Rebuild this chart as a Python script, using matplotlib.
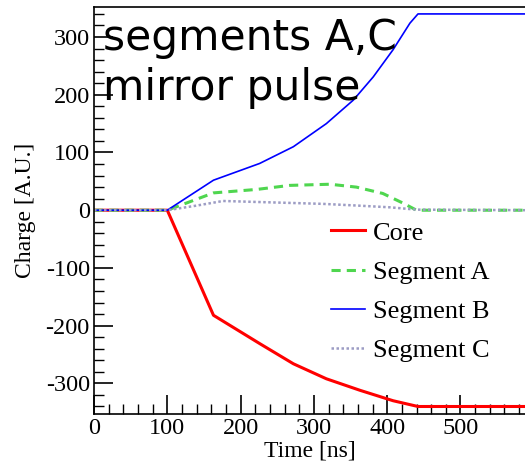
import matplotlib
matplotlib.use("Agg")
import matplotlib.pyplot as plt
from matplotlib.ticker import MultipleLocator

plt.rcParams["axes.unicode_minus"] = False

# Data
core_t = [0, 100, 163, 226, 272, 317, 363, 408, 442, 590]
core_q = [0, 0, -182, -231, -266, -292, -312, -330, -340, -340]

segA_t = [0, 100, 163, 222, 267, 322, 358, 394, 422, 440, 590]
segA_q = [0, 0, 30, 36, 43, 45, 40, 29, 12, 0, 0]

segB_t = [0, 100, 163, 226, 272, 317, 354, 381, 408, 431, 442, 590]
segB_q = [0, 0, 52, 81, 110, 150, 191, 231, 278, 324, 340, 340]

segC_t = [0, 100, 140, 176, 230, 312, 360, 404, 440, 590]
segC_q = [0, 0, 8, 16, 14, 11, 8, 5, 1, 0]

xticks = [0, 100, 200, 300, 400, 500]
yticks = [-300, -200, -100, 0, 100, 200, 300]

W, H = 525, 461
fig = plt.figure(figsize=(W / 100, H / 100), dpi=100)
ax = fig.add_axes([94 / W, (H - 414) / H, (525 - 94) / W, (414 - 7) / H])

serif = "Liberation Serif"

ax.plot(core_t, core_q, color="#ff0000", lw=2.2, label="Core")
ax.plot(segA_t, segA_q, color="#4fd64f", lw=2.2, ls=(0, (3, 2)), label="Segment A")
ax.plot(segB_t, segB_q, color="#0000ff", lw=1.2, label="Segment B")
ax.plot(segC_t, segC_q, color="#9c9cc4", lw=1.8, ls=(0, (1, 1)), label="Segment C")

ax.set_xlim(0, 588)
ax.set_ylim(-353, 352)
ax.set_xticks(xticks)
ax.set_yticks(yticks)
ax.xaxis.set_minor_locator(MultipleLocator(20))
ax.yaxis.set_minor_locator(MultipleLocator(20))
ax.tick_params(which="major", direction="in", length=14, width=1.2,
               top=False, right=False, labelsize=17.5, pad=3)
ax.tick_params(which="minor", direction="in", length=7, width=1.0,
               top=False, right=False)
for lab in ax.get_xticklabels() + ax.get_yticklabels():
    lab.set_family(serif)
ax.spines["right"].set_visible(False)
for s in ["left", "bottom", "top"]:
    ax.spines[s].set_linewidth(1.2)

ax.set_xlabel("Time [ns]", family=serif, fontsize=17, labelpad=1)
ax.set_ylabel("Charge [A.U.]", family=serif, fontsize=17, labelpad=7)

leg = ax.legend(loc="upper left", bbox_to_anchor=(0.525, 0.50), frameon=False,
                prop={"family": serif, "size": 19}, handlelength=1.3,
                handletextpad=0.3, labelspacing=0.6, borderaxespad=0)

fig.text(103 / W, 1 - 50 / H, "segments A,C", fontsize=30.5,
         family="DejaVu Sans", va="baseline", ha="left")
fig.text(103 / W, 1 - 100 / H, "mirror pulse", fontsize=30.5,
         family="DejaVu Sans", va="baseline", ha="left")

fig.savefig("out.png", dpi=100)
